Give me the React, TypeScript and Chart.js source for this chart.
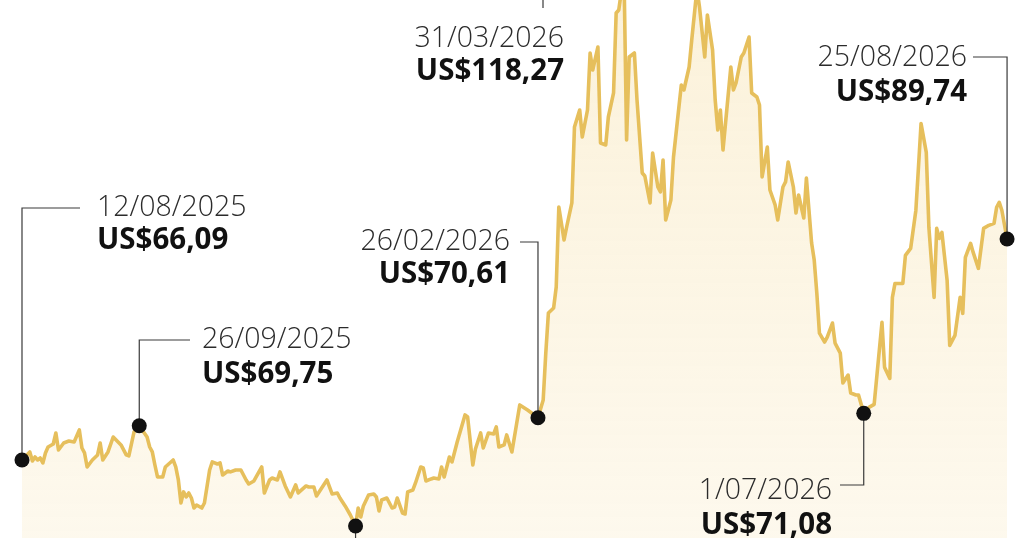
import React, { useEffect, useRef } from 'react';
import { Chart, registerables } from 'chart.js';

Chart.register(...registerables);

// Day offsets counted from 12/08/2025, and Brent price (US$)
const daysAugOct = [0, 3, 4, 5, 6, 7, 8, 9, 10, 12, 13, 14, 16, 18, 20, 22, 23, 24, 25, 27, 29, 30, 31, 33, 35, 38, 40, 41, 43, 45, 48, 49, 50, 51, 52, 54, 55, 58, 59, 60, 61, 62, 63, 64, 65, 66, 67, 69, 70, 72, 73, 75, 76, 77, 79, 80, 82, 84, 86, 87];
const pricesAugOct = [66.09, 66.95, 65.98, 66.41, 66.09, 66.30, 65.77, 66.84, 67.48, 67.80, 68.98, 67.16, 67.91, 68.12, 68.02, 69.30, 67.37, 66.84, 65.34, 66.09, 66.63, 67.91, 66.09, 66.95, 68.55, 67.70, 66.63, 66.52, 69.09, 69.75, 68.55, 67.48, 66.95, 65.55, 64.27, 64.27, 65.34, 66.09, 65.34, 63.95, 61.49, 62.67, 62.13, 62.56, 62.02, 60.95, 61.27, 60.95, 61.49, 65.02, 65.88, 65.66, 65.77, 64.48, 64.91, 64.81, 65.02, 65.02, 63.95, 63.52];

const daysNovFeb = [89, 92, 93, 95, 96, 98, 99, 101, 103, 105, 106, 109, 110, 112, 113, 115, 117, 119, 121, 122, 124, 126, 128, 129, 130, 131, 133, 135, 136, 137, 138, 140, 142, 143, 144, 146, 147, 148, 150, 151, 153, 154, 155, 157, 158, 160, 161, 162, 164, 165, 167, 170, 171, 173, 174, 176, 177, 179, 181, 182, 183, 185, 186, 188, 191, 194, 198];
const pricesNovFeb = [63.84, 65.34, 62.56, 63.95, 64.16, 63.95, 64.81, 63.31, 62.13, 63.42, 62.56, 63.31, 63.20, 63.20, 62.24, 63.09, 63.95, 62.45, 62.56, 62.02, 61.17, 60.20, 59.03, 60.95, 59.99, 61.17, 62.34, 62.45, 62.13, 60.63, 61.81, 62.02, 60.95, 61.06, 62.02, 60.42, 60.31, 62.67, 62.88, 63.63, 65.34, 65.23, 63.84, 64.06, 64.16, 64.06, 65.34, 64.27, 66.41, 65.88, 68.02, 70.91, 70.69, 65.55, 67.27, 68.98, 67.37, 68.98, 68.87, 69.62, 67.48, 67.70, 68.77, 66.95, 71.98, 71.44, 70.61];

const daysMarMay = [200, 201, 202, 204, 205, 206, 208, 209, 211, 212, 214, 215, 217, 218, 219, 221, 222, 224, 225, 227, 228, 229, 231, 232, 233, 235, 236, 238, 239, 241, 242, 244, 245, 246, 247, 249, 250, 251, 253, 254, 256, 257, 259, 260, 262, 263, 265, 266, 267, 268, 269, 272, 273, 274, 276, 277, 279, 280, 282, 283];
const pricesMarMay = [72.51, 77.54, 81.82, 82.35, 84.60, 93.16, 89.63, 91.02, 93.59, 101.72, 103.54, 100.65, 103.54, 109.64, 107.82, 110.28, 100.01, 99.80, 102.79, 105.36, 113.92, 114.24, 118.27, 100.33, 109.21, 109.64, 104.61, 96.80, 96.48, 93.59, 98.94, 95.30, 94.77, 98.19, 91.77, 93.91, 98.51, 101.08, 106.21, 105.68, 108.14, 111.03, 116.50, 114.50, 109.21, 113.71, 109.96, 104.61, 101.40, 103.54, 99.26, 108.14, 105.68, 106.43, 109.21, 109.64, 111.35, 105.36, 104.93, 104.07];

const daysMayAug = [284, 286, 287, 289, 290, 292, 293, 294, 296, 297, 298, 300, 301, 303, 304, 305, 306, 308, 309, 311, 312, 314, 315, 317, 318, 320, 321, 323, 325, 327, 330, 331, 333, 334, 335, 338, 339, 341, 343, 344, 345, 347, 348, 350, 351, 352, 353, 355, 356, 358, 360, 361, 362, 364, 365, 367, 369, 371, 373, 374, 375, 376, 378];
const pricesMayAug = [96.37, 99.58, 94.98, 93.38, 91.77, 95.30, 95.84, 97.98, 95.30, 92.52, 94.45, 91.98, 96.26, 89.30, 87.48, 83.95, 79.67, 78.71, 79.24, 80.74, 78.60, 77.53, 74.32, 75.18, 73.25, 73.04, 73.04, 71.08, 71.72, 72.04, 80.81, 76.00, 74.82, 83.49, 84.98, 84.98, 87.98, 88.73, 92.79, 97.39, 102.10, 99.00, 90.97, 83.49, 90.87, 89.80, 90.44, 85.31, 78.35, 79.42, 83.49, 81.78, 87.77, 89.27, 88.30, 86.59, 90.87, 91.20, 91.41, 93.13, 93.66, 92.81, 89.74];

// Annotated points
const annDays = [0, 45, 198, 231, 323, 378];
const annDateLabels = ['12/08/2025', '26/09/2025', '26/02/2026', '31/03/2026', '1/07/2026', '25/08/2026'];
const annPriceLabels = ['US$66,09', 'US$69,75', 'US$70,61', 'US$118,27', 'US$71,08', 'US$89,74'];
const lowDay = 128; // marked low, its label lies below the visible frame

// Axis ranges (the picture is a crop of a taller chart)
const X_MIN = -8.44;
const X_MAX = 384.5;
const Y_MIN = 57.74;
const Y_MAX = 115.31;

const days = [...daysAugOct, ...daysNovFeb, ...daysMarMay, ...daysMayAug];
const prices = [...pricesAugOct, ...pricesNovFeb, ...pricesMarMay, ...pricesMayAug];

const LINE = '#e6bf5c';
const INK = '#111111';
const LEADER = '#3a3a3a';
const DATE_FONT = '300 28.5px "Open Sans"';
const PRICE_FONT = '700 29.5px "Open Sans"';

type Layout = { kind: 'up' | 'down' | 'top'; elbowY: number; elbowX: number; textX: number; align: 'left' | 'right'; dateY: number; priceY: number };
const layouts: Layout[] = [
  { kind: 'up', elbowY: 208, elbowX: 80, textX: 97, align: 'left', dateY: 208, priceY: 241 },
  { kind: 'up', elbowY: 340, elbowX: 190, textX: 202, align: 'left', dateY: 340, priceY: 375 },
  { kind: 'up', elbowY: 242, elbowX: 520, textX: 510, align: 'right', dateY: 242, priceY: 275 },
  { kind: 'top', elbowY: -45, elbowX: 543, textX: 564, align: 'right', dateY: 39, priceY: 72 },
  { kind: 'down', elbowY: 485, elbowX: 840, textX: 832, align: 'right', dateY: 491, priceY: 526 },
  { kind: 'up', elbowY: 57, elbowX: 973, textX: 967, align: 'right', dateY: 58, priceY: 93 },
];

function priceAt(day: number) {
  const i = days.indexOf(day);
  return prices[i];
}

const annotationPlugin = {
  id: 'annotations',
  afterDatasetsDraw(chart: any) {
    const ctx: CanvasRenderingContext2D = chart.ctx;
    const xs = chart.scales.x;
    const ys = chart.scales.y;
    ctx.save();
    ctx.strokeStyle = LEADER;
    ctx.lineWidth = 1.2;
    // low marker
    {
      const px = xs.getPixelForValue(lowDay);
      const py = ys.getPixelForValue(priceAt(lowDay));
      ctx.beginPath();
      ctx.moveTo(px, py);
      ctx.lineTo(px, py + 80);
      ctx.stroke();
      ctx.fillStyle = INK;
      ctx.beginPath();
      ctx.arc(px, py, 7.5, 0, Math.PI * 2);
      ctx.fill();
    }
    annDays.forEach((d, i) => {
      const L = layouts[i];
      const px = xs.getPixelForValue(d);
      const py = ys.getPixelForValue(priceAt(d));
      ctx.strokeStyle = LEADER;
      ctx.beginPath();
      if (L.kind === 'top') {
        ctx.moveTo(px, py);
        ctx.lineTo(px, L.elbowY);
        ctx.lineTo(L.elbowX, L.elbowY);
        ctx.lineTo(L.elbowX, 8);
      } else {
        ctx.moveTo(px, py);
        ctx.lineTo(px, L.elbowY);
        ctx.lineTo(L.elbowX, L.elbowY);
      }
      ctx.stroke();
      ctx.fillStyle = INK;
      ctx.beginPath();
      ctx.arc(px, py, 7.5, 0, Math.PI * 2);
      ctx.fill();
      ctx.textAlign = L.align;
      ctx.textBaseline = 'middle';
      ctx.fillStyle = '#2b2b2b';
      ctx.font = DATE_FONT;
      ctx.fillText(annDateLabels[i], L.textX, L.dateY);
      ctx.fillStyle = INK;
      ctx.font = PRICE_FONT;
      ctx.fillText(annPriceLabels[i], L.textX, L.priceY);
    });
    ctx.restore();
  },
};

export default function App() {
  const ref = useRef<HTMLCanvasElement>(null);
  useEffect(() => {
    document.body.style.margin = '0';
    const canvas = ref.current!;
    const points = days.map((d, i) => ({ x: d, y: prices[i] }));
    const chart = new Chart(canvas, {
      type: 'line',
      data: {
        datasets: [
          {
            data: points,
            borderColor: LINE,
            borderWidth: 3.6,
            borderJoinStyle: 'round',
            pointRadius: 0,
            tension: 0,
            fill: 'start',
            backgroundColor: (c: any) => {
              const g = c.chart.ctx.createLinearGradient(0, 0, 0, 538);
              g.addColorStop(0, 'rgba(243,212,135,0.30)');
              g.addColorStop(1, 'rgba(243,212,135,0.15)');
              return g;
            },
          },
        ],
      },
      options: {
        animation: false,
        responsive: false,
        events: [],
        layout: { padding: 0 },
        plugins: { legend: { display: false }, tooltip: { enabled: false } },
        scales: {
          x: { type: 'linear', min: X_MIN, max: X_MAX, display: false },
          y: { min: Y_MIN, max: Y_MAX, display: false },
        },
      } as any,
      plugins: [annotationPlugin],
    });
    return () => chart.destroy();
  }, []);
  return (
    <div style={{ position: 'absolute', left: 0, top: 0, width: 1024, height: 538 }}>
      <canvas ref={ref} width={1024} height={538} />
    </div>
  );
}
